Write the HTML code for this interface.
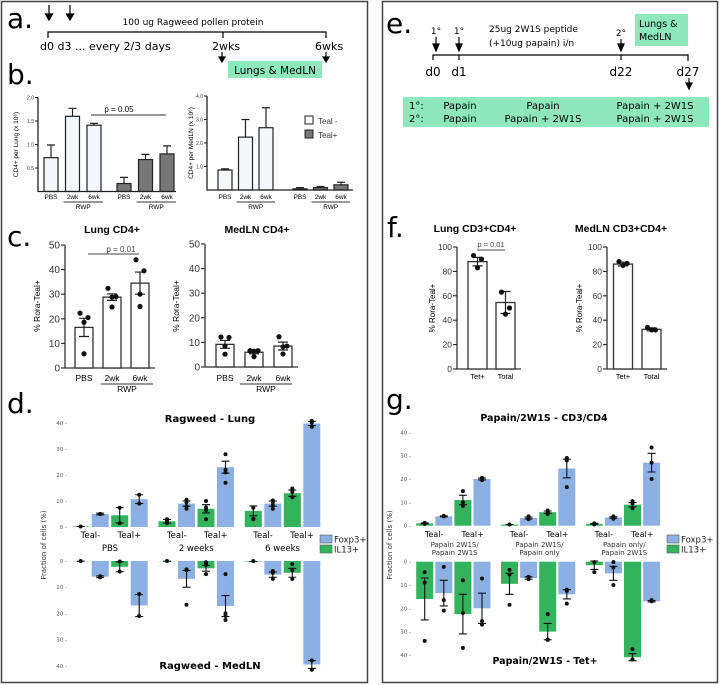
<!DOCTYPE html>
<html><head><meta charset="utf-8"><style>
html,body{margin:0;padding:0;background:#fff;}
svg{display:block;font-family:"Liberation Sans",sans-serif;}
.dv{font-family:"DejaVu Sans","Liberation Sans",sans-serif;}
</style></head><body>
<svg id="fig" width="720" height="685" viewBox="0 0 720 685" xmlns="http://www.w3.org/2000/svg">
<rect x="0" y="0" width="720" height="685" fill="#fff"/>
<rect x="1.5" y="1.5" width="366" height="681" fill="none" stroke="#444" stroke-width="1.5"/>
<rect x="382.5" y="1.5" width="335" height="681" fill="none" stroke="#444" stroke-width="1.5"/>

<g class="dv">
<text x="7" y="28" font-size="28">a.</text>
<path d="M49 5V18M45.5 14L49 20L52.5 14Z M70 5V18M66.5 14L70 20L73.5 14Z" stroke="#000" fill="#000" stroke-width="1.2"/>
<text x="193" y="25" font-size="9" text-anchor="middle">100 ug Ragweed pollen protein</text>
<path d="M48 38V32H326V38M223 32V38" stroke="#000" fill="none" stroke-width="1.2"/>
<text x="40" y="50" font-size="11">d0  d3 ... every 2/3 days</text>
<text x="212" y="50" font-size="11">2wks</text>
<text x="315" y="50" font-size="11">6wks</text>
<path d="M222 52V60M219 57L222 62L225 57Z M326 52V60M323 57L326 62L329 57Z" stroke="#000" fill="#000" stroke-width="1.2"/>
<rect x="228" y="61" width="94" height="17" fill="#8ee8bc"/>
<text x="275" y="74" font-size="10.5" text-anchor="middle">Lungs &amp; MedLN</text>
<text x="7" y="84" font-size="28">b.</text>
<text x="7" y="246" font-size="28">c.</text>
<text x="7" y="413" font-size="28">d.</text>
</g>

<g class="dv">
<text x="386" y="33" font-size="28">e.</text>
<text x="436" y="34" font-size="9" text-anchor="middle">1°</text>
<text x="459" y="34" font-size="9" text-anchor="middle">1°</text>
<text x="621" y="36" font-size="9" text-anchor="middle">2°</text>
<path d="M436 37V47M433 44L436 51L439 44Z M459 37V47M456 44L459 51L462 44Z M621 39V47M618 44L621 51L624 44Z" stroke="#000" fill="#000" stroke-width="1.2"/>
<text x="489" y="32" font-size="9">25ug 2W1S peptide</text>
<text x="489" y="46" font-size="9">(+10ug papain) i/n</text>
<rect x="635" y="14" width="53" height="32" fill="#8ee8bc"/>
<text x="639" y="27" font-size="9.5">Lungs &amp;</text>
<text x="639" y="40" font-size="9.5">MedLN</text>
<path d="M433 60V55H688V61M459 55V60M621 55V60" stroke="#000" fill="none" stroke-width="1.2"/>
<text x="433" y="76" font-size="12" text-anchor="middle">d0</text>
<text x="459" y="76" font-size="12" text-anchor="middle">d1</text>
<text x="621" y="76" font-size="12" text-anchor="middle">d22</text>
<text x="688" y="76" font-size="12" text-anchor="middle">d27</text>
<path d="M689 78V85M686 83L689 89L692 83Z" stroke="#000" fill="#000" stroke-width="1.2"/>
<rect x="403" y="97" width="306" height="30" fill="#8ee8bc"/>
<g font-size="10">
<text x="409" y="109">1°:</text><text x="460" y="109" text-anchor="middle">Papain</text><text x="543" y="109" text-anchor="middle">Papain</text><text x="655" y="109" text-anchor="middle">Papain + 2W1S</text>
<text x="409" y="122">2°:</text><text x="460" y="122" text-anchor="middle">Papain</text><text x="543" y="122" text-anchor="middle">Papain + 2W1S</text><text x="655" y="122" text-anchor="middle">Papain + 2W1S</text>
</g>
<text x="387" y="237" font-size="28">f.</text>
<text x="386" y="409" font-size="28">g.</text>
</g>

<!-- static y ticks for c and f -->
<g stroke="#333" stroke-width="1.2">
<line x1="61" y1="368" x2="65" y2="368"/><line x1="61" y1="343.4" x2="65" y2="343.4"/><line x1="61" y1="318.8" x2="65" y2="318.8"/><line x1="61" y1="294.2" x2="65" y2="294.2"/><line x1="61" y1="269.6" x2="65" y2="269.6"/><line x1="61" y1="245" x2="65" y2="245"/>
</g>
<g font-size="10" fill="#333" text-anchor="end">
<text x="60" y="371.5">0</text><text x="60" y="346.9">10</text><text x="60" y="322.3">20</text><text x="60" y="297.7">30</text><text x="60" y="273.1">40</text><text x="60" y="248.5">50</text>
</g>
<g stroke="#333" stroke-width="1.2">
<line x1="201" y1="367" x2="205" y2="367"/><line x1="201" y1="342.4" x2="205" y2="342.4"/><line x1="201" y1="317.8" x2="205" y2="317.8"/><line x1="201" y1="293.2" x2="205" y2="293.2"/><line x1="201" y1="268.6" x2="205" y2="268.6"/><line x1="201" y1="244" x2="205" y2="244"/>
</g>
<g font-size="10" fill="#333" text-anchor="end">
<text x="200" y="370.5">0</text><text x="200" y="345.9">10</text><text x="200" y="321.3">20</text><text x="200" y="296.7">30</text><text x="200" y="272.1">40</text><text x="200" y="247.5">50</text>
</g>
<g stroke="#333" stroke-width="1.2">
<line x1="453" y1="369" x2="457" y2="369"/><line x1="453" y1="344.6" x2="457" y2="344.6"/><line x1="453" y1="320.2" x2="457" y2="320.2"/><line x1="453" y1="295.8" x2="457" y2="295.8"/><line x1="453" y1="271.4" x2="457" y2="271.4"/><line x1="453" y1="247" x2="457" y2="247"/>
</g>
<g font-size="8.5" fill="#333" text-anchor="end">
<text x="452" y="372">0</text><text x="452" y="347.6">20</text><text x="452" y="323.2">40</text><text x="452" y="298.8">60</text><text x="452" y="274.4">80</text><text x="452" y="250">100</text>
</g>
<g stroke="#333" stroke-width="1.2">
<line x1="603" y1="369" x2="607" y2="369"/><line x1="603" y1="344.6" x2="607" y2="344.6"/><line x1="603" y1="320.2" x2="607" y2="320.2"/><line x1="603" y1="295.8" x2="607" y2="295.8"/><line x1="603" y1="271.4" x2="607" y2="271.4"/><line x1="603" y1="247" x2="607" y2="247"/>
</g>
<g font-size="8.5" fill="#333" text-anchor="end">
<text x="602" y="372">0</text><text x="602" y="347.6">20</text><text x="602" y="323.2">40</text><text x="602" y="298.8">60</text><text x="602" y="274.4">80</text><text x="602" y="250">100</text>
</g>
<g id="charts"></g>
</svg>
<script>
const bCategories = ['PBS','2wk','6wk'];
const bLungTealNeg = [0.72, 1.6, 1.41];
const bLungTealNegErr = [0.27, 0.17, 0.04];
const bLungTealPos = [0.17, 0.68, 0.8];
const bLungTealPosErr = [0.13, 0.11, 0.17];
const bLungTicks = ['0.5','1.0','1.5','2.0'];
const bLungTickValues = [0.5, 1, 1.5, 2];
const bMedTealNeg = [0.85, 2.25, 2.65];
const bMedTealNegErr = [0.05, 0.75, 0.85];
const bMedTealPos = [0.05, 0.1, 0.22];
const bMedTealPosErr = [0.05, 0.05, 0.11];
const bMedTicks = ['1.0','2.0','3.0','4.0'];
const bMedTickValues = [1, 2, 3, 4];
const cCategories = ['PBS','2wk','6wk'];
const cLungMeans = [16.5, 28.8, 34.5];
const cLungSE = [3.7, 1.3, 4.5];
const cLungPoints = [[22.3, 20.5, 18.6, 5.8], [32.4, 29, 28.8, 24.8], [44, 39.5, 30, 25]];
const cMedMeans = [9.2, 6, 8.5];
const cMedSE = [1.6, 0.6, 1.6];
const cMedPoints = [[12.2, 12, 8.5, 5.2], [6.6, 6.6, 6.4, 4.2], [12.3, 8.5, 8.2, 5.3]];
const cAxisMax = 50;
const fCategories = ['Tet+','Total'];
const fLungMeans = [88, 54.5];
const fLungSE = [3.5, 9];
const fLungPoints = [[93, 90, 83], [63, 50, 45]];
const fMedMeans = [86, 32.5];
const fMedSE = [1.5, 1.2];
const fMedPoints = [[88, 86.5, 85], [34, 32, 32]];
const fAxisMax = 100;
const dGroups = ['PBS','2 weeks','6 weeks'];
const dLungValues = [0.2, 5, 4.5, 10.7, 2.2, 9, 7, 23, 6.2, 9, 13, 39.8];
const dLungSE = [0, 0.3, 3, 1.7, 0.7, 1, 1.6, 2.3, 1.9, 1, 1.2, 0.8];
const dLungPoints = [[0.2],[5,5],[7.4,1.5],[12.4,9],[3,2.3,1.5],[10.5,9.5,8,7],[10,7.5,6.5,3],[28,22,21,17],[7.4,3.2,3],[10.2,9.5,8.3,7],[14.8,13.5,11.5],[40.8,40.1,38.5]];
const dMedValues = [0.1, 6, 2.2, 17, 0.1, 6.8, 2.8, 17.2, 0.2, 5.2, 4.5, 39.5];
const dMedSE = [0, 0.3, 1.9, 4.2, 0, 3.2, 1.1, 4, 0, 1, 1.7, 1.5];
const dMedPoints = [[0],[5.8,6.2],[0.2,4],[12.6,21],[0],[3.2,3.5,16.7],[0.5,1,1.5,5],[5,20,21,22.5],[0],[3.8,4.5,6.8],[1.2,3.5,6.8],[38,41.5]];
const dTickValues = [0, 10, 20, 30, 40];
const gGroups = [['Papain 2W1S/','Papain 2W1S'],['Papain 2W1S/','Papain only'],['Papain only/','Papain 2W1S']];
const gTopValues = [1, 4, 11, 20, 0.5, 3.3, 5.8, 24.5, 0.8, 3.5, 9, 27];
const gTopSE = [0.2, 0.2, 2, 0.4, 0, 0.4, 0.5, 4, 0.2, 0.3, 0.9, 4];
const gTopPoints = [[1.2,0.8],[4.2,4],[14.8,10,8.5],[20.5,20,19.5],[0.5],[4,3.5,2.8],[6.5,5.8,5],[29,28,16.5],[1,0.5],[4,3.5,3],[10.5,9.5,7.5],[33.5,27,20]];
const gBotValues = [16, 13.5, 22.5, 20, 9.5, 7, 30, 14, 1.5, 5, 41, 17];
const gBotSE = [9, 5.5, 8.5, 6.5, 4.5, 0.5, 3.5, 2, 1.8, 3, 1.5, 0.3];
const gBotPoints = [[4.5,9,34],[2.2,16.5,21],[8,22,37],[7.2,25.5,27],[3.5,5.5,18.5],[6.5,7,7.5],[22.5,33.5,33.5],[12,12.5,18],[0.2,4.5],[0.2,2.5,10],[37.5,42,42],[16.5,16.8,17]];

const NS = 'http://www.w3.org/2000/svg';
const root = document.getElementById('charts');
const GREEN = '#33b35c', BLUE = '#8db0e2';
function mk(tag, attrs, parent) {
  const e = document.createElementNS(NS, tag);
  for (const k in attrs) e.setAttribute(k, attrs[k]);
  (parent || root).appendChild(e);
  return e;
}
function txt(x, y, s, size, parent, extra) {
  const t = mk('text', Object.assign({x: x, y: y, 'font-size': size}, extra || {}), parent);
  t.textContent = s;
  return t;
}
function lin(zeroPx, pxPerUnit) { return v => zeroPx - v * pxPerUnit; }

function drawB(values, errs, xStart, step, fill, y, grp, nm) {
  values.forEach((v, i) => {
    const x = xStart + i * step;
    const r = mk('rect', {x: x - 7, y: y(v), width: 14, height: y(0) - y(v), fill: fill, stroke: '#222', 'stroke-width': 1.2}, grp);
    
    
    const e = mk('path', {d: `M${x} ${y(v)}V${y(v + errs[i])}M${x - 4} ${y(v + errs[i])}H${x + 4}`, stroke: '#222', 'stroke-width': 1.2, fill: 'none'}, grp);
    
    
  });
}
function bAxis(grp, y, ax, xEnd, ticks, tickVals, label, labelX) {
  mk('path', {d: `M${ax} ${y(tickVals[tickVals.length - 1])}V${y(0)}H${xEnd}`, stroke: '#222', 'stroke-width': 1.3, fill: 'none'}, grp);
  tickVals.forEach((v, i) => {
    mk('path', {d: `M${ax - 3} ${y(v)}H${ax}`, stroke: '#222'}, grp);
    const t = txt(ax - 4, y(v) + 2, ticks[i], 5, grp, {'text-anchor': 'end', fill: '#333'});
    
    
  });
  const yl = txt(0, 0, label, 6.5, grp, {'text-anchor': 'middle', transform: `translate(${labelX},${(y(0) + y(tickVals[tickVals.length - 1])) / 2}) rotate(-90)`});
  
  
}
function bXLabels(grp, starts, step, yBase) {
  starts.forEach(s => {
    bCategories.forEach((c, i) => txt(s + i * step, yBase, c, 6.5, grp, {'text-anchor': 'middle'}));
    mk('path', {d: `M${s + step - 9} ${yBase + 3}H${s + 2 * step + 9}`, stroke: '#333'}, grp);
    txt(s + 1.5 * step, yBase + 10, 'RWP', 6.5, grp, {'text-anchor': 'middle'});
  });
}
const gb1 = mk('g', {});


const yB1 = lin(191.5, 47);
drawB(bLungTealNeg, bLungTealNegErr, 51, 21.5, '#f4f8fc', yB1, gb1, 'b-lung-teal-neg');
drawB(bLungTealPos, bLungTealPosErr, 124, 21.5, '#777', yB1, gb1, 'b-lung-teal-pos');
bAxis(gb1, yB1, 38, 176, bLungTicks, bLungTickValues, 'CD4+ per Lung (x 10⁶)', 18);
bXLabels(gb1, [51, 124], 21.5, 199);
mk('path', {d: 'M91 115H166', stroke: '#333'}, gb1);
txt(119, 112, 'p = 0.05', 8, gb1, {'text-anchor': 'middle'});

const gb2 = mk('g', {});


const yB2 = lin(190, 23.5);
drawB(bMedTealNeg, bMedTealNegErr, 225, 20.5, '#f4f8fc', yB2, gb2, 'b-medln-teal-neg');
drawB(bMedTealPos, bMedTealPosErr, 300, 20.5, '#777', yB2, gb2, 'b-medln-teal-pos');
bAxis(gb2, yB2, 207, 353, bMedTicks, bMedTickValues, 'CD4+ per MedLN (x 10⁶)', 193);
bXLabels(gb2, [225, 300], 20.5, 199);
const lg1 = mk('rect', {x: 305, y: 116, width: 8, height: 8, fill: '#fff', stroke: '#222'}, gb2);


txt(318, 124, 'Teal -', 8, gb2, {fill: '#333'});
const lg2 = mk('rect', {x: 305, y: 130, width: 8, height: 8, fill: '#777', stroke: '#222'}, gb2);


txt(318, 138, 'Teal+', 8, gb2, {fill: '#333'});

function prism(grp, y, ax, xStart, step, bw, means, se, pts, cats, top, nm) {
  mk('path', {d: `M${ax} ${y(top)}V${y(0)}H${xStart + (cats.length - 1) * step + bw / 2 + 6}`, stroke: '#333', 'stroke-width': 1.3, fill: 'none'}, grp);
  means.forEach((m, i) => {
    const x = xStart + i * step;
    const r = mk('rect', {x: x - bw / 2, y: y(m), width: bw, height: y(0) - y(m), fill: '#fff', stroke: '#333', 'stroke-width': 1.3}, grp);
    
    
    const e = mk('path', {d: `M${x} ${y(m - se[i])}V${y(m + se[i])}M${x - 5} ${y(m + se[i])}H${x + 5}M${x - 5} ${y(m - se[i])}H${x + 5}`, stroke: '#222', 'stroke-width': 1.2, fill: 'none'}, grp);
    
    
    pts[i].forEach((p, k) => {
      const off = [-4, 4, 0, 0][k % 4] * (pts[i].length > 2 ? 1 : 0.5);
      const c = mk('circle', {cx: x + off, cy: y(p), r: 2.6, fill: '#111'}, grp);
      
      
    });
  });
}
const gc1 = mk('g', {});


const yC1 = lin(368, 2.46);
prism(gc1, yC1, 65, 84, 28, 18, cLungMeans, cLungSE, cLungPoints, cCategories, cAxisMax, 'c-lung');
txt(112, 233, 'Lung CD4+', 10.5, gc1, {'text-anchor': 'middle', 'font-weight': 'bold'});
txt(121, 252, 'p = 0.01', 8, gc1, {'text-anchor': 'middle', fill: '#444'});
mk('path', {d: 'M88 254H139', stroke: '#444'}, gc1);
txt(0, 0, '% Rora-Teal+', 8.5, gc1, {'text-anchor': 'middle', transform: 'translate(40,306) rotate(-90)'});
cCategories.forEach((c, i) => txt(84 + i * 28, 381, c, 8.5, gc1, {'text-anchor': 'middle'}));
mk('path', {d: 'M101 384H153', stroke: '#333'}, gc1);
txt(127, 392, 'RWP', 8.5, gc1, {'text-anchor': 'middle'});

const gc2 = mk('g', {});


const yC2 = lin(367, 2.46);
prism(gc2, yC2, 205, 225, 29, 18, cMedMeans, cMedSE, cMedPoints, cCategories, cAxisMax, 'c-medln');
txt(257, 233, 'MedLN CD4+', 10.5, gc2, {'text-anchor': 'middle', 'font-weight': 'bold'});
txt(0, 0, '% Rora-Teal+', 8.5, gc2, {'text-anchor': 'middle', transform: 'translate(179,306) rotate(-90)'});
cCategories.forEach((c, i) => txt(225 + i * 29, 381, c, 8.5, gc2, {'text-anchor': 'middle'}));
mk('path', {d: 'M240 384H292', stroke: '#333'}, gc2);
txt(266, 392, 'RWP', 8.5, gc2, {'text-anchor': 'middle'});

const gf1 = mk('g', {});


const yF1 = lin(369, 1.22);
prism(gf1, yF1, 457, 477.5, 28, 19, fLungMeans, fLungSE, fLungPoints, fCategories, fAxisMax, 'f-lung');
txt(475, 232, 'Lung CD3+CD4+', 10.5, gf1, {'text-anchor': 'middle', 'font-weight': 'bold'});
txt(491, 247, 'p = 0.01', 7.5, gf1, {'text-anchor': 'middle', fill: '#444'});
mk('path', {d: 'M477 250H505', stroke: '#444'}, gf1);
txt(0, 0, '% Rora-Teal+', 8, gf1, {'text-anchor': 'middle', transform: 'translate(435,308) rotate(-90)'});
fCategories.forEach((c, i) => txt(477.5 + i * 28, 379, c, 7.5, gf1, {'text-anchor': 'middle'}));

const gf2 = mk('g', {});


const yF2 = lin(369, 1.22);
prism(gf2, yF2, 607, 623, 28.5, 19, fMedMeans, fMedSE, fMedPoints, fCategories, fAxisMax, 'f-medln');
txt(621, 232, 'MedLN CD3+CD4+', 10.5, gf2, {'text-anchor': 'middle', 'font-weight': 'bold'});
txt(0, 0, '% Rora-Teal+', 8, gf2, {'text-anchor': 'middle', transform: 'translate(582,308) rotate(-90)'});
fCategories.forEach((c, i) => txt(623 + i * 28.5, 379, c, 7.5, gf2, {'text-anchor': 'middle'}));

function gg(grp, y, down, start, gStep, bStep, vals, se, pts, tickVals, tickX, nm) {
  tickVals.forEach(v => {
    const t = txt(tickX, y(v) + 2, String(v) + ' -', 5.5, grp, {'text-anchor': 'end', fill: '#555'});
    
    
  });
  vals.forEach((v, i) => {
    const x = start + Math.floor(i / 4) * gStep + (i % 4) * bStep;
    const col = (i % 2 === 0) ? GREEN : BLUE;
    const y0 = y(0), y1 = y(v);
    const r = mk('rect', {x: x - 8.5, y: Math.min(y0, y1), width: 17, height: Math.abs(y1 - y0), fill: col}, grp);
    
    
    if (se[i] > 0) {
      const e = mk('path', {d: `M${x} ${y(v - se[i])}V${y(v + se[i])}M${x - 4} ${y(v + se[i])}H${x + 4}M${x - 4} ${y(v - se[i])}H${x + 4}`, stroke: '#111', 'stroke-width': 1.1, fill: 'none'}, grp);
      
      
    } else {
      mk('path', {d: `M${x - 4} ${y(v)}H${x + 4}`, stroke: '#111', 'stroke-width': 1.1}, grp);
    }
    pts[i].forEach(p => {
      const c = mk('circle', {cx: x, cy: y(p), r: 2, fill: '#111'}, grp);
      
      
    });
  });
}
function ggLegend(grp, x, y) {
  const a = mk('rect', {x: x, y: y, width: 12, height: 8, fill: BLUE, stroke: '#555', 'stroke-width': 0.6}, grp);
  
  
  txt(x + 14, y + 7.5, 'Foxp3+', 8.5, grp, {fill: '#222'});
  const b = mk('rect', {x: x, y: y + 10, width: 12, height: 8, fill: GREEN, stroke: '#555', 'stroke-width': 0.6}, grp);
  
  
  txt(x + 14, y + 17.5, 'IL13+', 8.5, grp, {fill: '#222'});
}
const gd = mk('g', {class: 'dv'});


const yD1 = lin(527, 2.6);
const yD2 = v => 561 + v * 2.62;
gg(gd, yD1, false, 80.7, 86.3, 19.5, dLungValues, dLungSE, dLungPoints, dTickValues, 67, 'd-lung');
gg(gd, yD2, true, 80.7, 86.3, 19.5, dMedValues, dMedSE, dMedPoints, dTickValues, 67, 'd-medln');
txt(210, 422, 'Ragweed - Lung', 10, gd, {'text-anchor': 'middle', 'font-weight': 'bold'});
txt(210, 669, 'Ragweed - MedLN', 10, gd, {'text-anchor': 'middle', 'font-weight': 'bold'});
txt(0, 0, 'Fraction of cells (%)', 7, gd, {'text-anchor': 'middle', fill: '#333', transform: 'translate(46,545) rotate(-90)'});
dGroups.forEach((gname, k) => {
  const base = 80.7 + k * 86.3;
  txt(base + 9.75, 538, 'Teal-', 8.5, gd, {'text-anchor': 'middle'});
  txt(base + 48.75, 538, 'Teal+', 8.5, gd, {'text-anchor': 'middle'});
  txt(base + 29.25, 551, gname, 8.5, gd, {'text-anchor': 'middle'});
});
ggLegend(gd, 320, 535);

const gG = mk('g', {class: 'dv'});


const yG1 = lin(525.7, 2.335);
const yG2 = v => 561.7 + v * 2.33;
gg(gG, yG1, false, 424.7, 84.8, 19.1, gTopValues, gTopSE, gTopPoints, dTickValues, 411, 'g-cd3cd4');
gg(gG, yG2, true, 424.7, 84.8, 19.1, gBotValues, gBotSE, gBotPoints, dTickValues, 411, 'g-tet');
txt(544, 421, 'Papain/2W1S - CD3/CD4', 9.5, gG, {'text-anchor': 'middle', 'font-weight': 'bold'});
txt(545, 664, 'Papain/2W1S - Tet+', 9.5, gG, {'text-anchor': 'middle', 'font-weight': 'bold'});
txt(0, 0, 'Fraction of cells (%)', 7, gG, {'text-anchor': 'middle', fill: '#333', transform: 'translate(392,545) rotate(-90)'});
gGroups.forEach((lines, k) => {
  const base = 424.7 + k * 84.8;
  txt(base + 9.5, 537, 'Teal-', 8, gG, {'text-anchor': 'middle'});
  txt(base + 48, 537, 'Teal+', 8, gG, {'text-anchor': 'middle'});
  txt(base + 30, 547, lines[0], 7, gG, {'text-anchor': 'middle', fill: '#333'});
  txt(base + 30, 555, lines[1], 7, gG, {'text-anchor': 'middle', fill: '#333'});
});
ggLegend(gG, 667, 535);
</script>
</body></html>
